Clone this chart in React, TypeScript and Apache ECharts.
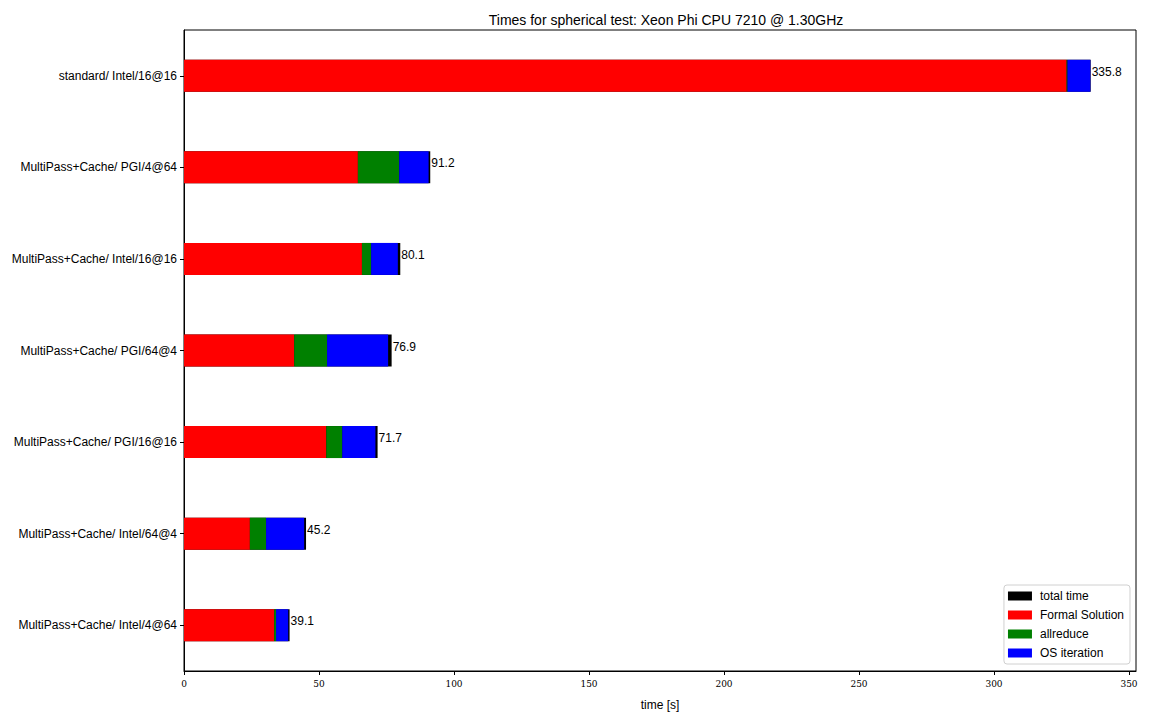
import React, { useEffect, useRef } from "react";
import * as echarts from "echarts";

const categories = [
  "standard/ Intel/16@16",
  "MultiPass+Cache/ PGI/4@64",
  "MultiPass+Cache/ Intel/16@16",
  "MultiPass+Cache/ PGI/64@4",
  "MultiPass+Cache/ PGI/16@16",
  "MultiPass+Cache/ Intel/64@4",
  "MultiPass+Cache/ Intel/4@64",
];
const totalTime = [335.8, 91.2, 80.1, 76.9, 71.7, 45.2, 39.1];
const formalSolution = [326.9, 64.4, 65.9, 40.8, 52.7, 24.4, 33.4];
const allreduce = [0.3, 15.3, 3.4, 12.2, 5.9, 6.0, 0.7];
const osIteration = [8.5, 10.9, 9.9, 22.6, 12.3, 14.1, 4.5];
const xTicks = [0, 50, 100, 150, 200, 250, 300, 350];

const sans = "'Liberation Sans', Arial, sans-serif";
const serif = "'DejaVu Serif Condensed', 'Liberation Serif', serif";

export default function App() {
  const ref = useRef<HTMLDivElement>(null);
  useEffect(() => {
    if (!ref.current) return;
    const chart = echarts.init(ref.current, null, { renderer: "svg" });
    const xMax = Math.max(...totalTime) * 1.05;
    const barW = 32;
    chart.setOption({
      animation: false,
      backgroundColor: "#ffffff",
      title: {
        text: "Times for spherical test: Xeon Phi CPU 7210 @ 1.30GHz",
        left: 661,
        textAlign: "center",
        top: 8,
        textStyle: { fontFamily: sans, fontSize: 14, fontWeight: "normal", color: "#000" },
      },
      grid: {
        left: 184,
        top: 30,
        right: 16,
        bottom: 49,
        show: true,
        borderColor: "#000",
        borderWidth: 1,
        backgroundColor: "transparent",
      },
      legend: {
        orient: "vertical",
        right: 22,
        bottom: 56,
        backgroundColor: "#fff",
        borderColor: "#d0d0d0",
        borderWidth: 1,
        borderRadius: 3,
        padding: [5, 6, 5, 4],
        itemWidth: 24,
        itemHeight: 9,
        itemGap: 7,
        icon: "rect",
        textStyle: { fontFamily: sans, fontSize: 12, color: "#000", padding: [0, 0, 0, 3] },
        data: ["total time", "Formal Solution", "allreduce", "OS iteration"],
      },
      xAxis: {
        type: "value",
        min: 0,
        max: xMax,
        interval: 50,
        name: "time [s]",
        nameLocation: "middle",
        nameGap: 28,
        nameTextStyle: { fontFamily: sans, fontSize: 12, color: "#000" },
        splitLine: { show: false },
        axisLine: { show: true, lineStyle: { color: "#000", width: 1 } },
        axisTick: {
          show: true,
          length: 4,
          lineStyle: { color: "#000" },
          customValues: xTicks,
        },
        axisLabel: {
          customValues: xTicks,
          fontFamily: serif,
          fontSize: 10,
          color: "#000",
          margin: 7,
        },
      },
      yAxis: {
        type: "category",
        data: categories,
        inverse: true,
        axisLine: { show: true, lineStyle: { color: "#000", width: 1 } },
        axisTick: { show: true, length: 4, alignWithLabel: true, lineStyle: { color: "#000" } },
        axisLabel: { fontFamily: sans, fontSize: 12, color: "#000", margin: 7 },
        splitLine: { show: false },
      },
      series: [
        {
          name: "total time",
          type: "bar",
          data: totalTime,
          barWidth: barW,
          barGap: "-100%",
          itemStyle: { color: "#000000" },
          label: {
            show: true,
            position: "right",
            distance: 1,
            offset: [0, -4],
            fontFamily: sans,
            fontSize: 12,
            color: "#000",
            formatter: (p: any) => Number(p.value).toFixed(1),
          },
        },
        {
          name: "Formal Solution",
          type: "bar",
          stack: "parts",
          data: formalSolution,
          barWidth: barW,
          barGap: "-100%",
          itemStyle: { color: "#ff0000" },
        },
        {
          name: "allreduce",
          type: "bar",
          stack: "parts",
          data: allreduce,
          barWidth: barW,
          barGap: "-100%",
          itemStyle: { color: "#008000" },
        },
        {
          name: "OS iteration",
          type: "bar",
          stack: "parts",
          data: osIteration,
          barWidth: barW,
          barGap: "-100%",
          itemStyle: { color: "#0000ff" },
        },
      ],
    });
    return () => chart.dispose();
  }, []);
  return (
    <div
      ref={ref}
      style={{ position: "absolute", left: 0, top: 0, width: 1152, height: 720 }}
    />
  );
}
